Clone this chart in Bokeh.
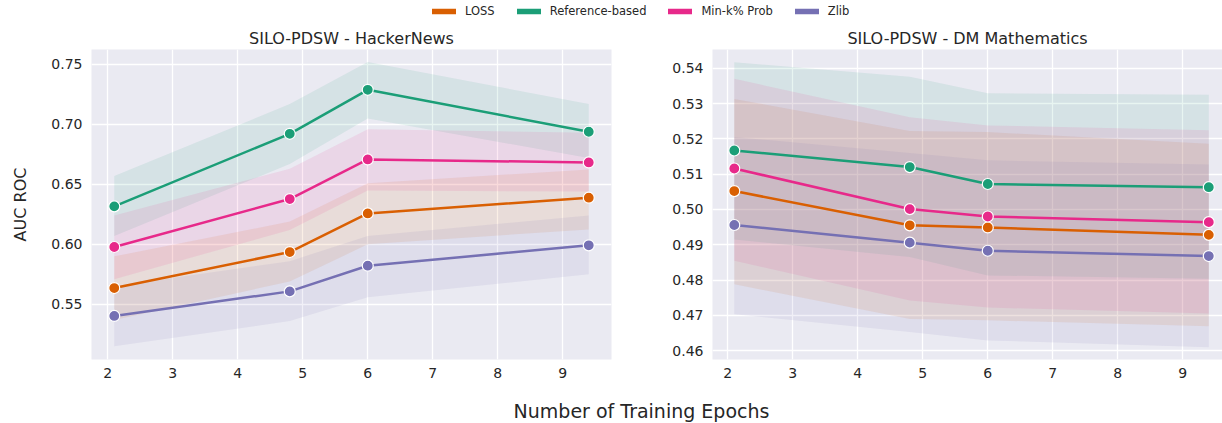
from bokeh.plotting import figure
from bokeh.layouts import column, row
from bokeh.models import (Range1d, FixedTicker, NumeralTickFormatter, Legend,
                          LegendItem, ColumnDataSource, Label)
from bokeh.embed import file_html
from bokeh.resources import INLINE

# ---------------- data ----------------
epochs = [2.1, 4.8, 6.0, 9.4]
methods = ["LOSS", "Reference-based", "Min-k% Prob", "Zlib"]
colors = ["#d95f02", "#1b9e77", "#e7298a", "#7570b3"]

# SILO-PDSW - HackerNews
hn_loss = [0.5636, 0.5936, 0.6258, 0.6389]
hn_loss_lo = [0.537, 0.569, 0.600, 0.6125]
hn_loss_hi = [0.590, 0.619, 0.651, 0.6625]
hn_ref = [0.6317, 0.6922, 0.7289, 0.6939]
hn_ref_lo = [0.607, 0.667, 0.705, 0.672]
hn_ref_hi = [0.657, 0.717, 0.752, 0.717]
hn_mink = [0.5978, 0.6378, 0.6708, 0.6683]
hn_mink_lo = [0.571, 0.612, 0.645, 0.644]
hn_mink_hi = [0.624, 0.663, 0.696, 0.693]
hn_zlib = [0.5403, 0.5608, 0.5822, 0.5992]
hn_zlib_lo = [0.515, 0.536, 0.556, 0.575]
hn_zlib_hi = [0.565, 0.586, 0.607, 0.624]

# SILO-PDSW - DM Mathematics
dm_loss = [0.5052, 0.4955, 0.4949, 0.4928]
dm_loss_lo = [0.4788, 0.4690, 0.4686, 0.4669]
dm_loss_hi = [0.5313, 0.5222, 0.5219, 0.5186]
dm_ref = [0.5167, 0.5120, 0.5072, 0.5063]
dm_ref_lo = [0.4915, 0.4865, 0.4813, 0.4804]
dm_ref_hi = [0.5417, 0.5376, 0.5329, 0.5325]
dm_mink = [0.5116, 0.5001, 0.4980, 0.4964]
dm_mink_lo = [0.4855, 0.4742, 0.4722, 0.4705]
dm_mink_hi = [0.5370, 0.5261, 0.5238, 0.5224]
dm_zlib = [0.4956, 0.4906, 0.4883, 0.4868]
dm_zlib_lo = [0.4703, 0.4653, 0.4629, 0.4610]
dm_zlib_hi = [0.5205, 0.5160, 0.5139, 0.5127]

x_ticks = [2, 3, 4, 5, 6, 7, 8, 9]
hn_y_ticks = [0.55, 0.60, 0.65, 0.70, 0.75]
dm_y_ticks = [0.46, 0.47, 0.48, 0.49, 0.50, 0.51, 0.52, 0.53, 0.54]

FONT = "DejaVu Sans"
TXT = "#262626"
BG = "#eaeaf2"


def make_panel(title, series, xr, yr, yticks, width, bl, br, ylabel=None):
    p = figure(width=width, height=370, x_range=Range1d(*xr), y_range=Range1d(*yr),
               output_backend="svg", toolbar_location=None, title=title,
               min_border_left=bl, min_border_right=br, min_border_top=29,
               min_border_bottom=31)
    p.background_fill_color = BG
    p.border_fill_color = "white"
    p.outline_line_color = None
    p.title.align = "center"
    p.title.text_font = FONT
    p.title.text_font_size = "16px"
    p.title.text_font_style = "normal"
    p.title.text_color = TXT
    p.title.standoff = 4
    for ax in (p.xaxis[0], p.yaxis[0]):
        ax.axis_line_color = None
        ax.major_tick_line_color = None
        ax.minor_tick_line_color = None
        ax.major_tick_in = 0
        ax.major_tick_out = 0
        ax.major_label_text_font = FONT
        ax.major_label_text_font_size = "14px"
        ax.major_label_text_color = TXT
    p.xaxis.ticker = FixedTicker(ticks=x_ticks)
    p.xaxis.major_label_standoff = 8
    p.yaxis.ticker = FixedTicker(ticks=yticks)
    p.yaxis.formatter = NumeralTickFormatter(format="0.00")
    p.yaxis.major_label_standoff = 9
    if ylabel:
        p.yaxis.axis_label = ylabel
        p.yaxis.axis_label_text_font = FONT
        p.yaxis.axis_label_text_font_size = "16px"
        p.yaxis.axis_label_text_font_style = "normal"
        p.yaxis.axis_label_text_color = TXT
        p.yaxis.axis_label_standoff = 18
    p.xgrid.grid_line_color = "white"
    p.ygrid.grid_line_color = "white"
    p.xgrid.grid_line_width = 1.3
    p.ygrid.grid_line_width = 1.3

    for (mean, lo, hi), c in zip(series, colors):
        src = ColumnDataSource(dict(x=epochs, y=mean, lo=lo, hi=hi))
        p.varea(x="x", y1="lo", y2="hi", source=src, fill_color=c, fill_alpha=0.1)
    for (mean, lo, hi), c in zip(series, colors):
        src = ColumnDataSource(dict(x=epochs, y=mean))
        p.line(x="x", y="y", source=src, line_color=c, line_width=2.5)
        p.scatter(x="x", y="y", source=src, size=11, fill_color=c,
                  line_color="white", line_width=1.2)
    return p


p1 = make_panel("SILO-PDSW - HackerNews",
                [(hn_loss, hn_loss_lo, hn_loss_hi), (hn_ref, hn_ref_lo, hn_ref_hi),
                 (hn_mink, hn_mink_lo, hn_mink_hi), (hn_zlib, hn_zlib_lo, hn_zlib_hi)],
                (1.75, 9.75), (0.504, 0.7625), hn_y_ticks, 651, 91, 40, "AUC ROC")
p2 = make_panel("SILO-PDSW - DM Mathematics",
                [(dm_loss, dm_loss_lo, dm_loss_hi), (dm_ref, dm_ref_lo, dm_ref_hi),
                 (dm_mink, dm_mink_lo, dm_mink_hi), (dm_zlib, dm_zlib_lo, dm_zlib_hi)],
                (1.765, 9.611), (0.4575, 0.5453), dm_y_ticks, 571, 61, 0)

# ---------------- legend strip ----------------
lf = figure(width=1222, height=20, x_range=Range1d(0, 1), y_range=Range1d(0, 1),
            output_backend="svg", toolbar_location=None, min_border=0,
            x_axis_type=None, y_axis_type=None)
lf.outline_line_color = None
lf.background_fill_color = "white"
items = []
for m, c in zip(methods, colors):
    # proxy renderers (outside the visible range) only used for legend swatches
    r = lf.line(x=[5, 6], y=[5, 5], line_color=c, line_width=5.5, line_cap="round")
    items.append(LegendItem(label=m, renderers=[r]))
leg = Legend(items=items, orientation="horizontal", location=(432, 2), padding=0,
             margin=0, spacing=22, label_standoff=9, glyph_width=24, glyph_height=14,
             label_text_font=FONT, label_text_font_size="11.5px", label_text_color=TXT,
             border_line_alpha=0, background_fill_alpha=0, label_height=14)
lf.add_layout(leg, "center")

# ---------------- shared x label ----------------
xf = figure(width=1222, height=32, x_range=Range1d(0, 1222), y_range=Range1d(0, 32),
            output_backend="svg", toolbar_location=None, min_border=0,
            x_axis_type=None, y_axis_type=None)
xf.outline_line_color = None
xf.add_layout(Label(x=641, y=12, x_units="screen", y_units="screen",
                    text="Number of Training Epochs", text_align="center",
                    text_baseline="middle", text_font=FONT, text_font_size="19px",
                    text_color=TXT))

layout = column(lf, row(p1, p2), xf)

open("out.html", "w").write(file_html(layout, INLINE))
